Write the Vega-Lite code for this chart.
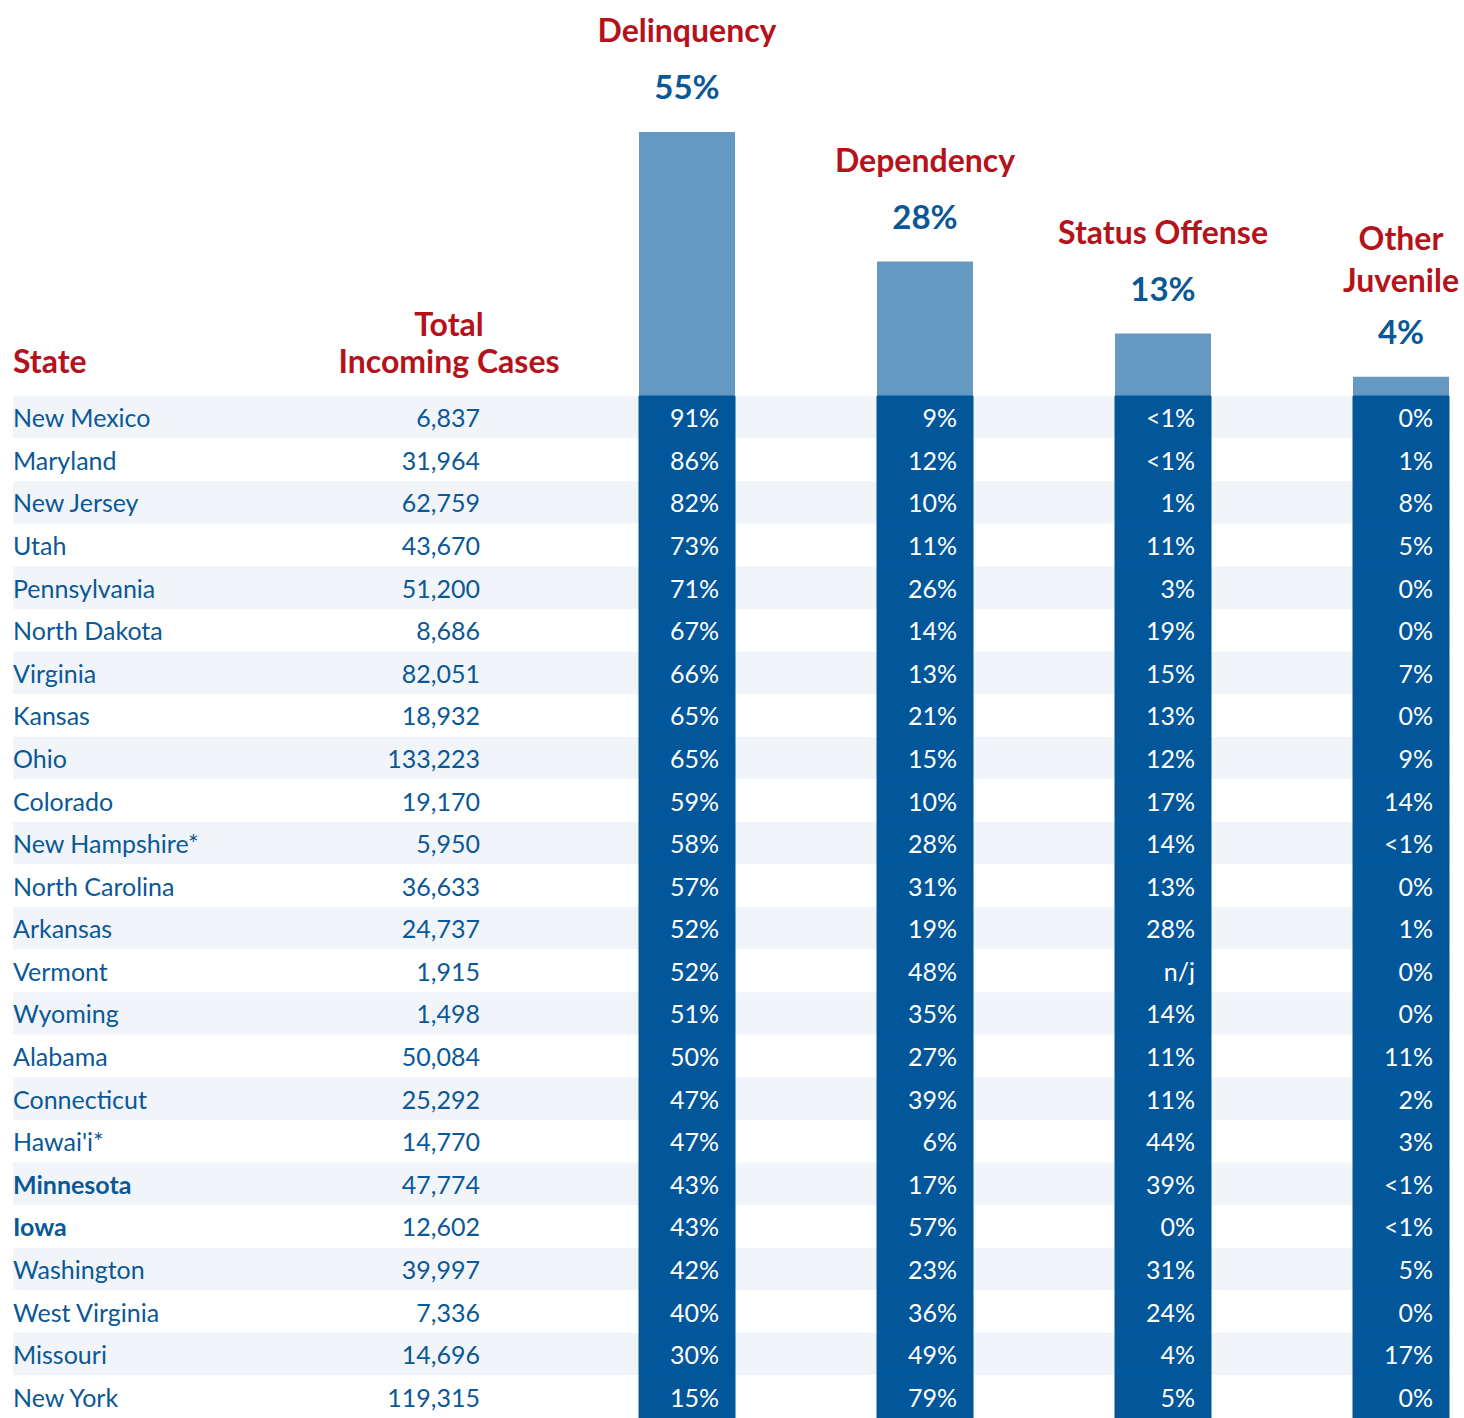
{
  "$schema": "https://vega.github.io/schema/vega-lite/v6.json",
  "padding": {"left": 13, "right": 15, "top": 0, "bottom": 0},
  "bounds": "flush",
  "spacing": 0,
  "background": "white",
  "config": {"view": {"stroke": null}, "font": "Lato", "concat": {"spacing": 0}},
  "datasets": {
    "cats": [
      {"cat": "Delinquency", "name": "Delinquency", "pct": 0.55},
      {"cat": "Dependency", "name": "Dependency", "pct": 0.28},
      {"cat": "Status Offense", "name": "Status Offense", "pct": 0.13},
      {"cat": "Other Juvenile", "name": "Other\nJuvenile", "pct": 0.04}
    ],
    "states": [
      {"state": "New Mexico", "total": 6837, "Delinquency": "91%", "Dependency": "9%", "Status Offense": "<1%", "Other Juvenile": "0%"},
      {"state": "Maryland", "total": 31964, "Delinquency": "86%", "Dependency": "12%", "Status Offense": "<1%", "Other Juvenile": "1%"},
      {"state": "New Jersey", "total": 62759, "Delinquency": "82%", "Dependency": "10%", "Status Offense": "1%", "Other Juvenile": "8%"},
      {"state": "Utah", "total": 43670, "Delinquency": "73%", "Dependency": "11%", "Status Offense": "11%", "Other Juvenile": "5%"},
      {"state": "Pennsylvania", "total": 51200, "Delinquency": "71%", "Dependency": "26%", "Status Offense": "3%", "Other Juvenile": "0%"},
      {"state": "North Dakota", "total": 8686, "Delinquency": "67%", "Dependency": "14%", "Status Offense": "19%", "Other Juvenile": "0%"},
      {"state": "Virginia", "total": 82051, "Delinquency": "66%", "Dependency": "13%", "Status Offense": "15%", "Other Juvenile": "7%"},
      {"state": "Kansas", "total": 18932, "Delinquency": "65%", "Dependency": "21%", "Status Offense": "13%", "Other Juvenile": "0%"},
      {"state": "Ohio", "total": 133223, "Delinquency": "65%", "Dependency": "15%", "Status Offense": "12%", "Other Juvenile": "9%"},
      {"state": "Colorado", "total": 19170, "Delinquency": "59%", "Dependency": "10%", "Status Offense": "17%", "Other Juvenile": "14%"},
      {"state": "New Hampshire*", "total": 5950, "Delinquency": "58%", "Dependency": "28%", "Status Offense": "14%", "Other Juvenile": "<1%"},
      {"state": "North Carolina", "total": 36633, "Delinquency": "57%", "Dependency": "31%", "Status Offense": "13%", "Other Juvenile": "0%"},
      {"state": "Arkansas", "total": 24737, "Delinquency": "52%", "Dependency": "19%", "Status Offense": "28%", "Other Juvenile": "1%"},
      {"state": "Vermont", "total": 1915, "Delinquency": "52%", "Dependency": "48%", "Status Offense": "n/j", "Other Juvenile": "0%"},
      {"state": "Wyoming", "total": 1498, "Delinquency": "51%", "Dependency": "35%", "Status Offense": "14%", "Other Juvenile": "0%"},
      {"state": "Alabama", "total": 50084, "Delinquency": "50%", "Dependency": "27%", "Status Offense": "11%", "Other Juvenile": "11%"},
      {"state": "Connecticut", "total": 25292, "Delinquency": "47%", "Dependency": "39%", "Status Offense": "11%", "Other Juvenile": "2%"},
      {"state": "Hawai'i*", "total": 14770, "Delinquency": "47%", "Dependency": "6%", "Status Offense": "44%", "Other Juvenile": "3%"},
      {"state": "Minnesota", "highlight": true, "total": 47774, "Delinquency": "43%", "Dependency": "17%", "Status Offense": "39%", "Other Juvenile": "<1%"},
      {"state": "Iowa", "highlight": true, "total": 12602, "Delinquency": "43%", "Dependency": "57%", "Status Offense": "0%", "Other Juvenile": "<1%"},
      {"state": "Washington", "total": 39997, "Delinquency": "42%", "Dependency": "23%", "Status Offense": "31%", "Other Juvenile": "5%"},
      {"state": "West Virginia", "total": 7336, "Delinquency": "40%", "Dependency": "36%", "Status Offense": "24%", "Other Juvenile": "0%"},
      {"state": "Missouri", "total": 14696, "Delinquency": "30%", "Dependency": "49%", "Status Offense": "4%", "Other Juvenile": "17%"},
      {"state": "New York", "total": 119315, "Delinquency": "15%", "Dependency": "79%", "Status Offense": "5%", "Other Juvenile": "0%"}
    ]
  },
  "vconcat": [
    {
      "width": 1436,
      "height": 396,
      "data": {"name": "cats"},
      "layer": [
        {
          "mark": {"type": "bar", "color": "#6699c1"},
          "encoding": {
            "x": {"field": "cat", "type": "nominal", "sort": null, "axis": null,
              "scale": {"type": "band", "domain": ["State", "Total", "Delinquency", "Dependency", "Status Offense", "Other Juvenile"], "paddingInner": 0.59664, "paddingOuter": 0.31513, "align": 1}},
            "y": {"field": "pct", "type": "quantitative", "axis": null, "scale": {"domain": [0, 0.825], "nice": false, "zero": true}}
          }
        },
        {
          "mark": {"type": "text", "color": "#0b5896", "fontSize": 33, "fontWeight": "bold", "baseline": "alphabetic", "dy": -33},
          "encoding": {
            "x": {"field": "cat", "type": "nominal", "sort": null, "axis": null,
              "scale": {"type": "band", "domain": ["State", "Total", "Delinquency", "Dependency", "Status Offense", "Other Juvenile"], "paddingInner": 0.59664, "paddingOuter": 0.31513, "align": 1}},
            "y": {"field": "pct", "type": "quantitative", "axis": null},
            "text": {"field": "pct", "type": "quantitative", "format": ".0%"}
          }
        },
        {
          "transform": [{"filter": "datum.cat !== 'Other Juvenile'"}],
          "mark": {"type": "text", "color": "#b5121b", "fontSize": 32, "fontWeight": "bold", "baseline": "alphabetic", "dy": -90},
          "encoding": {
            "x": {"field": "cat", "type": "nominal", "sort": null, "axis": null,
              "scale": {"type": "band", "domain": ["State", "Total", "Delinquency", "Dependency", "Status Offense", "Other Juvenile"], "paddingInner": 0.59664, "paddingOuter": 0.31513, "align": 1}},
            "y": {"field": "pct", "type": "quantitative", "axis": null},
            "text": {"field": "name", "type": "nominal"}
          }
        },
        {
          "transform": [{"filter": "datum.cat === 'Other Juvenile'"}],
          "mark": {"type": "text", "color": "#b5121b", "fontSize": 32, "fontWeight": "bold", "baseline": "alphabetic", "dy": -127, "lineBreak": "\n", "lineHeight": 42},
          "encoding": {
            "x": {"field": "cat", "type": "nominal", "sort": null, "axis": null,
              "scale": {"type": "band", "domain": ["State", "Total", "Delinquency", "Dependency", "Status Offense", "Other Juvenile"], "paddingInner": 0.59664, "paddingOuter": 0.31513, "align": 1}},
            "y": {"field": "pct", "type": "quantitative", "axis": null},
            "text": {"field": "name", "type": "nominal"}
          }
        },
        {
          "data": {"values": [{"label": "State"}]},
          "mark": {"type": "text", "color": "#b5121b", "fontSize": 32, "fontWeight": "bold", "baseline": "alphabetic", "align": "left", "dx": -198, "dy": -23},
          "encoding": {
            "x": {"datum": "State", "type": "nominal", "axis": null,
              "scale": {"type": "band", "domain": ["State", "Total", "Delinquency", "Dependency", "Status Offense", "Other Juvenile"], "paddingInner": 0.59664, "paddingOuter": 0.31513, "align": 1}},
            "y": {"datum": 0, "type": "quantitative", "axis": null},
            "text": {"field": "label", "type": "nominal"}
          }
        },
        {
          "data": {"values": [{"label": "Total\nIncoming Cases"}]},
          "mark": {"type": "text", "color": "#b5121b", "fontSize": 32, "fontWeight": "bold", "baseline": "alphabetic", "align": "center", "dy": -60, "lineBreak": "\n", "lineHeight": 37},
          "encoding": {
            "x": {"datum": "Total", "type": "nominal", "axis": null,
              "scale": {"type": "band", "domain": ["State", "Total", "Delinquency", "Dependency", "Status Offense", "Other Juvenile"], "paddingInner": 0.59664, "paddingOuter": 0.31513, "align": 1}},
            "y": {"datum": 0, "type": "quantitative", "axis": null},
            "text": {"field": "label", "type": "nominal"}
          }
        }
      ]
    },
    {
      "width": 1436,
      "height": 1022,
      "data": {"name": "states"},
      "layer": [
        {
          "transform": [{"window": [{"op": "row_number", "as": "rn"}]}],
          "mark": {"type": "rect"},
          "encoding": {
            "y": {"field": "state", "type": "nominal", "sort": null, "axis": null, "scale": {"paddingInner": 0, "paddingOuter": 0}},
            "fill": {"condition": {"test": "datum.rn % 2 === 1", "value": "#f1f5f9"}, "value": "#ffffff"}
          }
        },
        {
          "transform": [{"fold": ["Delinquency", "Dependency", "Status Offense", "Other Juvenile"], "as": ["cat", "val"]}],
          "mark": {"type": "rect", "color": "#02569a", "stroke": "#02569a", "strokeWidth": 1},
          "encoding": {
            "x": {"field": "cat", "type": "nominal", "sort": null, "axis": null,
              "scale": {"type": "band", "domain": ["State", "Total", "Delinquency", "Dependency", "Status Offense", "Other Juvenile"], "paddingInner": 0.59664, "paddingOuter": 0.31513, "align": 1}},
            "y": {"field": "state", "type": "nominal", "sort": null, "axis": null, "scale": {"paddingInner": 0, "paddingOuter": 0}}
          }
        },
        {
          "transform": [{"fold": ["Delinquency", "Dependency", "Status Offense", "Other Juvenile"], "as": ["cat", "val"]}],
          "mark": {"type": "text", "color": "#ffffff", "fontSize": 25, "align": "right", "baseline": "alphabetic", "dx": 32, "dy": 10},
          "encoding": {
            "x": {"field": "cat", "type": "nominal", "sort": null, "axis": null,
              "scale": {"type": "band", "domain": ["State", "Total", "Delinquency", "Dependency", "Status Offense", "Other Juvenile"], "paddingInner": 0.59664, "paddingOuter": 0.31513, "align": 1}},
            "y": {"field": "state", "type": "nominal", "sort": null, "axis": null, "scale": {"paddingInner": 0, "paddingOuter": 0}},
            "text": {"field": "val", "type": "nominal"}
          }
        },
        {
          "transform": [{"filter": "!datum.highlight"}],
          "mark": {"type": "text", "color": "#0b5896", "fontSize": 25, "align": "left", "baseline": "alphabetic", "dx": -198, "dy": 10},
          "encoding": {
            "x": {"datum": "State", "type": "nominal", "axis": null,
              "scale": {"type": "band", "domain": ["State", "Total", "Delinquency", "Dependency", "Status Offense", "Other Juvenile"], "paddingInner": 0.59664, "paddingOuter": 0.31513, "align": 1}},
            "y": {"field": "state", "type": "nominal", "sort": null, "axis": null, "scale": {"paddingInner": 0, "paddingOuter": 0}},
            "text": {"field": "state", "type": "nominal"}
          }
        },
        {
          "transform": [{"filter": "datum.highlight"}],
          "mark": {"type": "text", "color": "#0b5896", "fontSize": 25, "fontWeight": "bold", "align": "left", "baseline": "alphabetic", "dx": -198, "dy": 10},
          "encoding": {
            "x": {"datum": "State", "type": "nominal", "axis": null,
              "scale": {"type": "band", "domain": ["State", "Total", "Delinquency", "Dependency", "Status Offense", "Other Juvenile"], "paddingInner": 0.59664, "paddingOuter": 0.31513, "align": 1}},
            "y": {"field": "state", "type": "nominal", "sort": null, "axis": null, "scale": {"paddingInner": 0, "paddingOuter": 0}},
            "text": {"field": "state", "type": "nominal"}
          }
        },
        {
          "mark": {"type": "text", "color": "#0b5896", "fontSize": 25, "align": "right", "baseline": "alphabetic", "dx": 31, "dy": 10},
          "encoding": {
            "x": {"datum": "Total", "type": "nominal", "axis": null,
              "scale": {"type": "band", "domain": ["State", "Total", "Delinquency", "Dependency", "Status Offense", "Other Juvenile"], "paddingInner": 0.59664, "paddingOuter": 0.31513, "align": 1}},
            "y": {"field": "state", "type": "nominal", "sort": null, "axis": null, "scale": {"paddingInner": 0, "paddingOuter": 0}},
            "text": {"field": "total", "type": "quantitative", "format": ","}
          }
        }
      ]
    }
  ]
}
